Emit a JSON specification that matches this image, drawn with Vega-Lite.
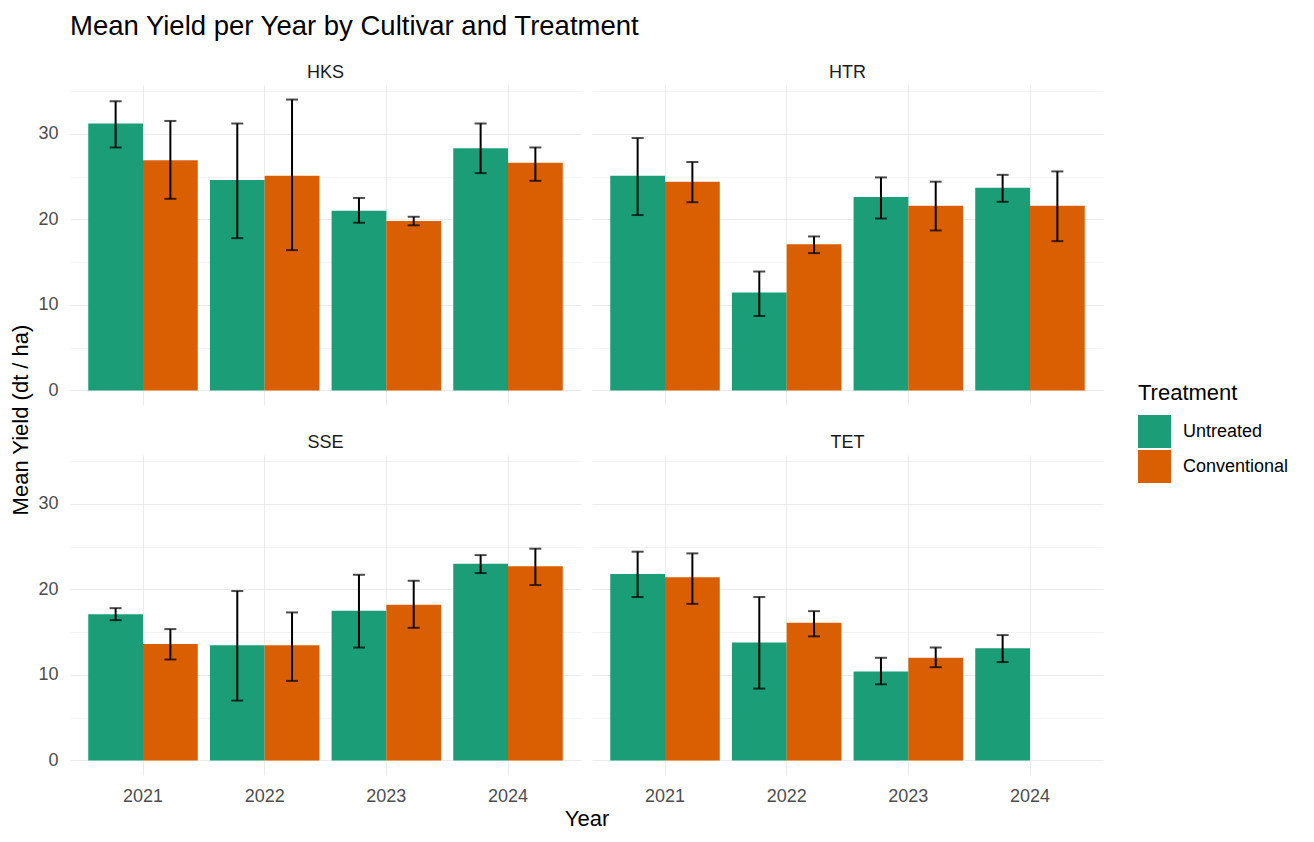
{
  "$schema": "https://vega.github.io/schema/vega-lite/v6.json",
  "padding": {"left": 9, "top": 12, "right": 5, "bottom": 5},
  "background": "white",
  "bounds": "flush",
  "config": {
    "font": "Liberation Sans",
    "view": {"stroke": null},
    "axis": {"domain": false, "ticks": false}
  },
  "title": {
    "text": "Mean Yield per Year by Cultivar and Treatment",
    "anchor": "start",
    "frame": "group",
    "fontSize": 27.5,
    "fontWeight": "normal",
    "color": "#000000",
    "offset": 24
  },
  "data": {
    "values": [
      {"Cultivar": "HKS", "r": 1, "c": 1, "Year": "2021", "Treatment": "Untreated", "mean": 31.2, "lower": 28.4, "upper": 33.8},
      {"Cultivar": "HKS", "r": 1, "c": 1, "Year": "2021", "Treatment": "Conventional", "mean": 26.9, "lower": 22.4, "upper": 31.5},
      {"Cultivar": "HKS", "r": 1, "c": 1, "Year": "2022", "Treatment": "Untreated", "mean": 24.6, "lower": 17.8, "upper": 31.2},
      {"Cultivar": "HKS", "r": 1, "c": 1, "Year": "2022", "Treatment": "Conventional", "mean": 25.1, "lower": 16.4, "upper": 34.0},
      {"Cultivar": "HKS", "r": 1, "c": 1, "Year": "2023", "Treatment": "Untreated", "mean": 21.0, "lower": 19.6, "upper": 22.5},
      {"Cultivar": "HKS", "r": 1, "c": 1, "Year": "2023", "Treatment": "Conventional", "mean": 19.8, "lower": 19.3, "upper": 20.3},
      {"Cultivar": "HKS", "r": 1, "c": 1, "Year": "2024", "Treatment": "Untreated", "mean": 28.3, "lower": 25.4, "upper": 31.2},
      {"Cultivar": "HKS", "r": 1, "c": 1, "Year": "2024", "Treatment": "Conventional", "mean": 26.6, "lower": 24.5, "upper": 28.4},
      {"Cultivar": "HTR", "r": 1, "c": 2, "Year": "2021", "Treatment": "Untreated", "mean": 25.1, "lower": 20.5, "upper": 29.5},
      {"Cultivar": "HTR", "r": 1, "c": 2, "Year": "2021", "Treatment": "Conventional", "mean": 24.4, "lower": 22.0, "upper": 26.7},
      {"Cultivar": "HTR", "r": 1, "c": 2, "Year": "2022", "Treatment": "Untreated", "mean": 11.45, "lower": 8.7, "upper": 13.9},
      {"Cultivar": "HTR", "r": 1, "c": 2, "Year": "2022", "Treatment": "Conventional", "mean": 17.1, "lower": 16.05, "upper": 18.0},
      {"Cultivar": "HTR", "r": 1, "c": 2, "Year": "2023", "Treatment": "Untreated", "mean": 22.6, "lower": 20.1, "upper": 24.9},
      {"Cultivar": "HTR", "r": 1, "c": 2, "Year": "2023", "Treatment": "Conventional", "mean": 21.6, "lower": 18.7, "upper": 24.4},
      {"Cultivar": "HTR", "r": 1, "c": 2, "Year": "2024", "Treatment": "Untreated", "mean": 23.7, "lower": 22.05, "upper": 25.2},
      {"Cultivar": "HTR", "r": 1, "c": 2, "Year": "2024", "Treatment": "Conventional", "mean": 21.6, "lower": 17.45, "upper": 25.6},
      {"Cultivar": "SSE", "r": 2, "c": 1, "Year": "2021", "Treatment": "Untreated", "mean": 17.1, "lower": 16.4, "upper": 17.8},
      {"Cultivar": "SSE", "r": 2, "c": 1, "Year": "2021", "Treatment": "Conventional", "mean": 13.6, "lower": 11.8, "upper": 15.35},
      {"Cultivar": "SSE", "r": 2, "c": 1, "Year": "2022", "Treatment": "Untreated", "mean": 13.45, "lower": 7.0, "upper": 19.8},
      {"Cultivar": "SSE", "r": 2, "c": 1, "Year": "2022", "Treatment": "Conventional", "mean": 13.45, "lower": 9.3, "upper": 17.3},
      {"Cultivar": "SSE", "r": 2, "c": 1, "Year": "2023", "Treatment": "Untreated", "mean": 17.5, "lower": 13.2, "upper": 21.7},
      {"Cultivar": "SSE", "r": 2, "c": 1, "Year": "2023", "Treatment": "Conventional", "mean": 18.2, "lower": 15.5, "upper": 21.0},
      {"Cultivar": "SSE", "r": 2, "c": 1, "Year": "2024", "Treatment": "Untreated", "mean": 23.0, "lower": 21.9, "upper": 24.0},
      {"Cultivar": "SSE", "r": 2, "c": 1, "Year": "2024", "Treatment": "Conventional", "mean": 22.7, "lower": 20.5, "upper": 24.75},
      {"Cultivar": "TET", "r": 2, "c": 2, "Year": "2021", "Treatment": "Untreated", "mean": 21.8, "lower": 19.1, "upper": 24.4},
      {"Cultivar": "TET", "r": 2, "c": 2, "Year": "2021", "Treatment": "Conventional", "mean": 21.4, "lower": 18.3, "upper": 24.2},
      {"Cultivar": "TET", "r": 2, "c": 2, "Year": "2022", "Treatment": "Untreated", "mean": 13.8, "lower": 8.4, "upper": 19.1},
      {"Cultivar": "TET", "r": 2, "c": 2, "Year": "2022", "Treatment": "Conventional", "mean": 16.1, "lower": 14.5, "upper": 17.45},
      {"Cultivar": "TET", "r": 2, "c": 2, "Year": "2023", "Treatment": "Untreated", "mean": 10.4, "lower": 8.9, "upper": 12.0},
      {"Cultivar": "TET", "r": 2, "c": 2, "Year": "2023", "Treatment": "Conventional", "mean": 12.0, "lower": 10.9, "upper": 13.2},
      {"Cultivar": "TET", "r": 2, "c": 2, "Year": "2024", "Treatment": "Untreated", "mean": 13.1, "lower": 11.5, "upper": 14.65}
    ]
  },
  "facet": {
    "row": {
      "field": "r",
      "type": "ordinal",
      "header": {
        "labels": false,
        "labelPadding": 0,
        "title": "Mean Yield (dt / ha)",
        "titleFontSize": 22,
        "titleFontWeight": "normal",
        "titleColor": "#000000",
        "titlePadding": -6,
        "titleFont": "Liberation Sans"
      }
    },
    "column": {
      "field": "c",
      "type": "ordinal",
      "header": {
        "labels": false,
        "labelPadding": 0,
        "title": "Year",
        "titleOrient": "bottom",
        "titleFontSize": 22,
        "titleFontWeight": "normal",
        "titleColor": "#000000",
        "titlePadding": -6,
        "titleFont": "Liberation Sans"
      }
    }
  },
  "spacing": {"column": 11, "row": 50},
  "spec": {
    "width": 511,
    "height": 320,
    "encoding": {
      "x": {
        "field": "Year",
        "type": "ordinal",
        "scale": {"paddingInner": 0.1, "paddingOuter": 0.15},
        "axis": {
          "title": null,
          "labelAngle": 0,
          "labelFontSize": 18,
          "labelColor": "#4d4d4d",
          "labelPadding": 12,
          "grid": true,
          "bandPosition": 0.5,
          "gridColor": "#ebebeb",
          "gridWidth": 1
        }
      }
    },
    "layer": [
      {
        "mark": {"type": "bar"},
        "encoding": {
          "xOffset": {
            "field": "Treatment",
            "type": "nominal",
            "scale": {"domain": ["Untreated", "Conventional"], "paddingInner": 0, "paddingOuter": 0}
          },
          "y": {
            "field": "mean",
            "type": "quantitative",
            "scale": {"domain": [-1.7, 35.7], "nice": false, "zero": false},
            "axis": {
              "title": null,
              "values": [0, 5, 10, 15, 20, 25, 30, 35],
              "labelExpr": "datum.value % 10 === 0 ? datum.label : ''",
              "labelFontSize": 18,
              "labelColor": "#4d4d4d",
              "labelPadding": 12,
              "grid": true,
              "gridColor": "#ebebeb",
              "gridWidth": {"condition": {"test": "datum.value % 10 === 0", "value": 1}, "value": 0.6}
            }
          },
          "y2": {"datum": 0},
          "color": {
            "field": "Treatment",
            "type": "nominal",
            "scale": {"domain": ["Untreated", "Conventional"], "range": ["#1b9e77", "#d95f02"]},
            "legend": {
              "title": "Treatment",
              "titleFontSize": 22,
              "titleFontWeight": "normal",
              "titleColor": "#000000",
              "titlePadding": 10,
              "labelFontSize": 18,
              "labelColor": "#000000",
              "labelOffset": 12,
              "symbolType": "square",
              "symbolSize": 1089,
              "symbolStrokeWidth": 0,
              "symbolOpacity": 1,
              "rowPadding": 2,
              "orient": "none",
              "legendX": 1068,
              "legendY": 298
            }
          }
        }
      },
      {
        "mark": {"type": "rule", "color": "#000000", "strokeWidth": 2},
        "encoding": {
          "xOffset": {"field": "Treatment", "type": "nominal"},
          "y": {"field": "lower", "type": "quantitative"},
          "y2": {"field": "upper"}
        }
      },
      {
        "mark": {"type": "tick", "color": "#000000", "thickness": 2, "size": 12},
        "encoding": {
          "xOffset": {"field": "Treatment", "type": "nominal"},
          "y": {"field": "lower", "type": "quantitative"}
        }
      },
      {
        "mark": {"type": "tick", "color": "#000000", "thickness": 2, "size": 12},
        "encoding": {
          "xOffset": {"field": "Treatment", "type": "nominal"},
          "y": {"field": "upper", "type": "quantitative"}
        }
      },
      {
        "transform": [
          {"aggregate": [{"op": "count", "as": "n"}], "groupby": ["Cultivar", "r", "c"]}
        ],
        "mark": {"type": "text", "fontSize": 18, "color": "#1a1a1a", "baseline": "middle", "align": "center"},
        "encoding": {
          "x": {"datum": "2022", "bandPosition": 1.0556},
          "y": {"datum": 37.1},
          "text": {"field": "Cultivar"}
        }
      }
    ]
  }
}
